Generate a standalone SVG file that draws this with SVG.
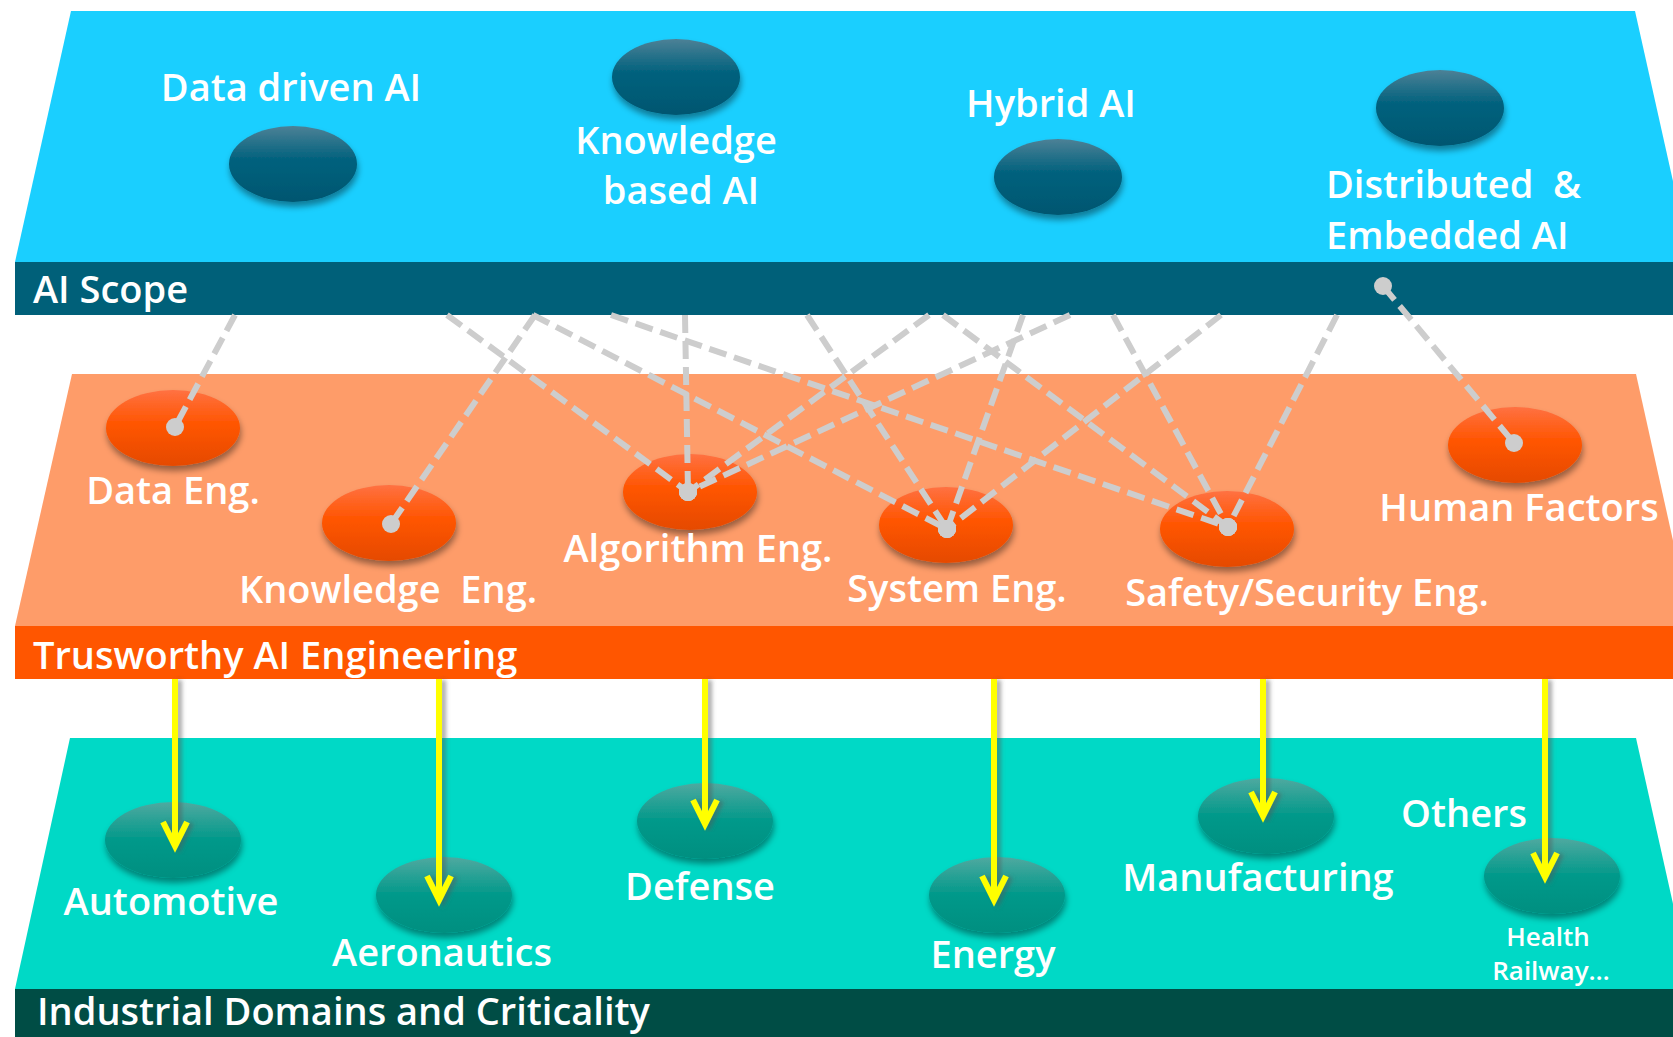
<svg xmlns="http://www.w3.org/2000/svg" width="1673" height="1037" viewBox="0 0 1673 1037">
  <defs>
    <style>
      .lbl { font-family: "Open Sans", "Liberation Sans", sans-serif; font-weight: 600; font-size: 38px; fill: #ffffff; white-space: pre; }
      .mid { text-anchor: middle; }
      .small { font-size: 26px; }
      .link { fill: none; stroke: #cdcdcd; stroke-width: 6; stroke-dasharray: 18 8; marker-end: url(#dot); }
      .flow { fill: none; stroke: #ffff00; stroke-width: 6; filter: url(#arrowShadow); }
      .blue { fill: url(#gBlue); filter: url(#nodeShadow); }
      .orange { fill: url(#gOrange); filter: url(#nodeShadow); }
      .teal { fill: url(#gTeal); filter: url(#nodeShadow); }
    </style>
    <linearGradient id="gBlue" x1="0" y1="0" x2="0" y2="1">
      <stop offset="0" stop-color="#4d8196"/>
      <stop offset="0.45" stop-color="#00617d"/>
      <stop offset="1" stop-color="#005670"/>
    </linearGradient>
    <linearGradient id="gOrange" x1="0" y1="0" x2="0" y2="1">
      <stop offset="0" stop-color="#ff7142"/>
      <stop offset="0.45" stop-color="#ff5500"/>
      <stop offset="1" stop-color="#e54a00"/>
    </linearGradient>
    <linearGradient id="gTeal" x1="0" y1="0" x2="0" y2="1">
      <stop offset="0" stop-color="#4fa9a0"/>
      <stop offset="0.5" stop-color="#00998a"/>
      <stop offset="1" stop-color="#008f80"/>
    </linearGradient>
    <filter id="nodeShadow" x="-20%" y="-20%" width="140%" height="150%">
      <feDropShadow dx="1" dy="5" stdDeviation="3" flood-color="#000" flood-opacity="0.4"/>
    </filter>
    <filter id="arrowShadow" x="-100%" y="-5%" width="300%" height="110%">
      <feDropShadow dx="4" dy="1" stdDeviation="2" flood-color="#555" flood-opacity="0.5"/>
    </filter>
    <marker id="dot" viewBox="-10 -10 20 20" markerWidth="20" markerHeight="20" markerUnits="userSpaceOnUse" refX="0" refY="0">
      <circle r="9" fill="#cdcdcd"/>
    </marker>
  </defs>

  <rect width="1673" height="1037" fill="#ffffff"/>

  <!-- bottom layer: industrial domains -->
  <g id="layer-domains">
    <polygon points="70,738 1636,738 1692,989 15,989" fill="#00d9c6"/>
    <rect x="15" y="989" width="1658" height="48" fill="#004d45"/>
    <text class="lbl" x="37" y="1025">Industrial Domains and Criticality</text>
  </g>

  <!-- middle layer: engineering -->
  <g id="layer-engineering">
    <polygon points="72,374 1636,374 1692,626 15,626" fill="#fe9c69"/>
    <rect x="15" y="626" width="1658" height="53" fill="#ff5600"/>
    <text class="lbl" x="33" y="669">Trusworthy AI Engineering</text>
  </g>

  <!-- top layer: AI scope -->
  <g id="layer-scope">
    <polygon points="71,11 1635,11 1691,262 15,262" fill="#1acfff"/>
    <rect x="15" y="262" width="1658" height="53" fill="#006079"/>
    <text class="lbl" x="33" y="303">AI Scope</text>
  </g>

  <!-- AI scope nodes -->
  <g id="node-data-driven">
    <ellipse class="blue" cx="293" cy="164" rx="64" ry="38"/>
    <text class="lbl mid" x="291" y="101">Data driven AI</text>
  </g>
  <g id="node-knowledge-based">
    <ellipse class="blue" cx="676" cy="77" rx="64" ry="38"/>
    <text class="lbl mid" x="676" y="154">Knowledge</text>
    <text class="lbl mid" x="681" y="204">based AI</text>
  </g>
  <g id="node-hybrid">
    <ellipse class="blue" cx="1058" cy="177" rx="64" ry="38"/>
    <text class="lbl mid" x="1051" y="117">Hybrid AI</text>
  </g>
  <g id="node-distributed">
    <ellipse class="blue" cx="1440" cy="108" rx="64" ry="38"/>
    <text class="lbl" x="1326" y="198">Distributed  &amp;</text>
    <text class="lbl" x="1326" y="249">Embedded AI</text>
  </g>

  <!-- engineering nodes -->
  <g id="node-data-eng">
    <ellipse class="orange" cx="173" cy="428" rx="67" ry="38"/>
    <text class="lbl mid" x="173" y="504">Data Eng.</text>
  </g>
  <g id="node-knowledge-eng">
    <ellipse class="orange" cx="389" cy="523" rx="67" ry="38"/>
    <text class="lbl mid" x="388" y="603">Knowledge  Eng.</text>
  </g>
  <g id="node-algorithm-eng">
    <ellipse class="orange" cx="690" cy="492" rx="67" ry="38"/>
    <text class="lbl mid" x="698" y="562">Algorithm Eng.</text>
  </g>
  <g id="node-system-eng">
    <ellipse class="orange" cx="946" cy="525" rx="67" ry="38"/>
    <text class="lbl mid" x="957" y="602">System Eng.</text>
  </g>
  <g id="node-safety-eng">
    <ellipse class="orange" cx="1227" cy="529" rx="67" ry="38"/>
    <text class="lbl mid" x="1307" y="606">Safety/Security Eng.</text>
  </g>
  <g id="node-human-factors">
    <ellipse class="orange" cx="1515" cy="445" rx="67" ry="38"/>
    <text class="lbl mid" x="1519" y="521">Human Factors</text>
  </g>

  <!-- industrial domain nodes -->
  <g id="node-automotive">
    <ellipse class="teal" cx="173" cy="840" rx="68" ry="38"/>
    <text class="lbl mid" x="171" y="915">Automotive</text>
  </g>
  <g id="node-aeronautics">
    <ellipse class="teal" cx="444" cy="895" rx="68" ry="38"/>
    <text class="lbl mid" x="442" y="966">Aeronautics</text>
  </g>
  <g id="node-defense">
    <ellipse class="teal" cx="705" cy="821" rx="68" ry="38"/>
    <text class="lbl mid" x="700" y="900">Defense</text>
  </g>
  <g id="node-energy">
    <ellipse class="teal" cx="997" cy="895" rx="68" ry="38"/>
    <text class="lbl mid" x="993" y="968">Energy</text>
  </g>
  <g id="node-manufacturing">
    <ellipse class="teal" cx="1266" cy="816" rx="68" ry="38"/>
    <text class="lbl mid" x="1258" y="891">Manufacturing</text>
  </g>
  <g id="node-others">
    <ellipse class="teal" cx="1552" cy="876" rx="68" ry="38"/>
    <text class="lbl mid" x="1464" y="827">Others</text>
    <text class="lbl mid small" x="1548" y="946">Health</text>
    <text class="lbl mid small" x="1551" y="980">Railway…</text>
  </g>

  <!-- connectors: AI scope to engineering (dashed), engineering to domains (yellow) -->
  <g id="connectors">
    <line class="link" x1="235" y1="315" x2="175" y2="427"/>
    <line class="link" x1="535" y1="315" x2="391" y2="524"/>
    <line class="link" x1="447" y1="315" x2="688" y2="492"/>
    <line class="link" x1="685" y1="315" x2="688" y2="492"/>
    <line class="link" x1="929" y1="315" x2="688" y2="492"/>
    <line class="link" x1="1070" y1="315" x2="688" y2="492"/>
    <line class="link" x1="533" y1="315" x2="947" y2="529"/>
    <line class="link" x1="807" y1="315" x2="947" y2="529"/>
    <line class="link" x1="1023" y1="315" x2="947" y2="529"/>
    <line class="link" x1="1221" y1="315" x2="947" y2="529"/>
    <line class="link" x1="611" y1="315" x2="1228" y2="527"/>
    <line class="link" x1="943" y1="315" x2="1228" y2="527"/>
    <line class="link" x1="1113" y1="315" x2="1228" y2="527"/>
    <line class="link" x1="1337" y1="315" x2="1228" y2="527"/>
    <line class="link" x1="1383" y1="286" x2="1514" y2="443" marker-start="url(#dot)"/>

    <path class="flow" d="M175,679 V846 M163,822 L175,846 L187,822"/>
    <path class="flow" d="M439,679 V900 M427,876 L439,900 L451,876"/>
    <path class="flow" d="M705,679 V824 M693,800 L705,824 L717,800"/>
    <path class="flow" d="M994,679 V900 M982,876 L994,900 L1006,876"/>
    <path class="flow" d="M1263,679 V816 M1251,792 L1263,816 L1275,792"/>
    <path class="flow" d="M1545,679 V877 M1533,853 L1545,877 L1557,853"/>
  </g>
</svg>
